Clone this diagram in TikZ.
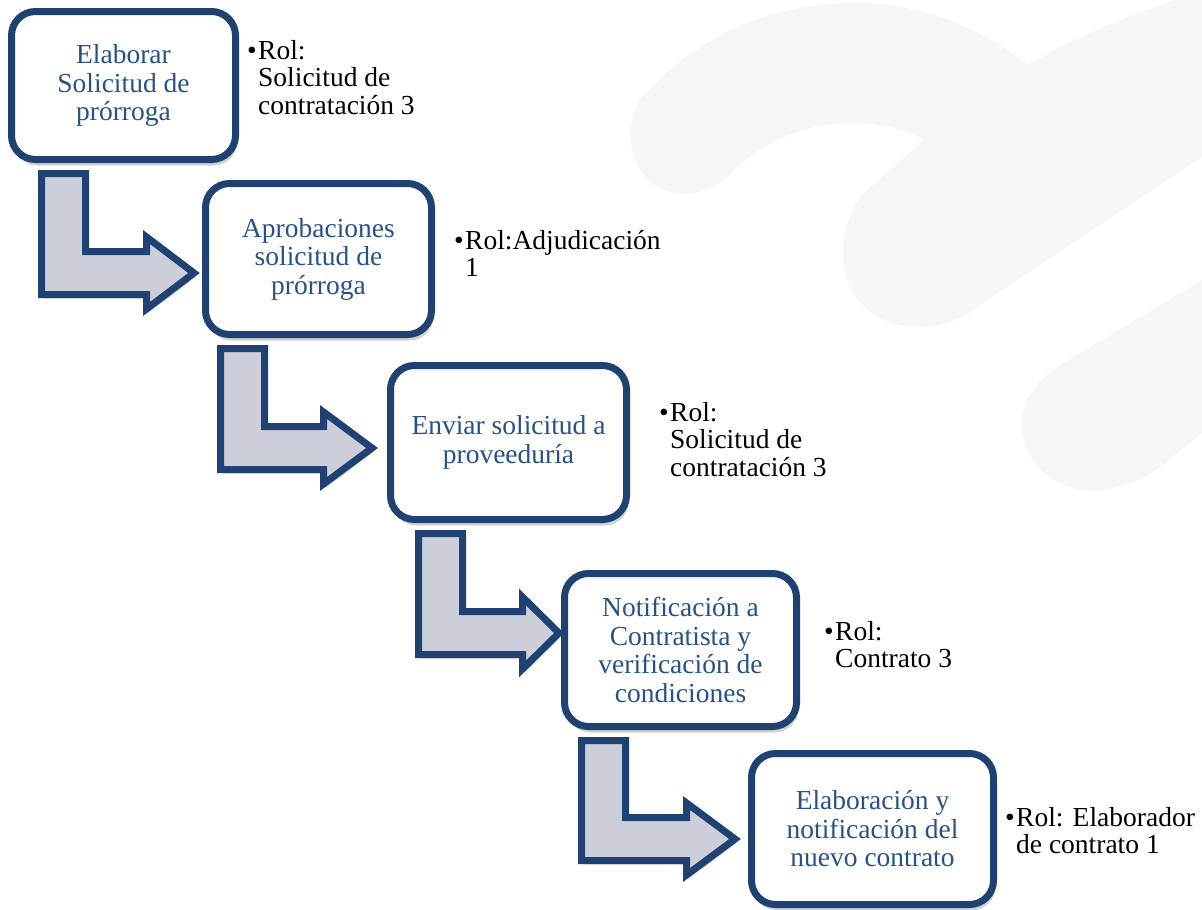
\documentclass[tikz,border=0pt]{standalone}
\usepackage{fontspec}
\setmainfont{Liberation Serif}
\usetikzlibrary{calc,shadows}
\definecolor{bdr}{RGB}{31,66,115}
\definecolor{btxt}{RGB}{40,82,135}
\definecolor{afill}{RGB}{204,207,217}
\definecolor{wm}{RGB}{246,246,247}
\newcommand{\bxfont}{\fontsize{27.5}{28.5}\selectfont}
\newcommand{\rlfont}{\fontsize{27.5}{27.5}\selectfont}
\newcommand{\bul}{\llap{\textbullet\hspace{1.5pt}}}
\pgfdeclarelayer{wmlayer}
\pgfdeclarelayer{bg}
\pgfsetlayers{wmlayer,bg,main}
\tikzset{
  stepbox/.style={draw=bdr, line width=7pt, fill=white, rounded corners=24pt,
    align=center, text=btxt, font=\bxfont, inner sep=0pt,
    drop shadow={shadow xshift=2pt, shadow yshift=-6pt, opacity=0.18, fill=black}},
  rolenote/.style={anchor=north west, align=left, inner sep=0pt, font=\rlfont, text=black},
  blk/.style={draw=bdr, line width=7pt, fill=afill, line join=miter,
    drop shadow={shadow xshift=2pt, shadow yshift=-4pt, opacity=0.15, fill=black}},
  wmark/.style={fill=wm, draw=none}
}
\newcommand{\blockarrow}[6]{%
  \coordinate (s) at ($(#1.south west)+(#3+3.5,10.5)$);
  \coordinate (t) at ($(#2.west)+(#4,#5)$);
  \coordinate (sr) at ($(s)+(44,0)$);
  \coordinate (bt) at ($(t)+(0,-21.5)$);
  \coordinate (bb) at ($(t)+(0,21.5)$);
  \coordinate (hb) at ($(t)+(-#6,0)$);
  \coordinate (ht) at ($(hb)+(0,-36)$);
  \coordinate (hd) at ($(hb)+(0,36)$);
  \draw[blk] (s) -- (sr) -- (sr |- bt) -- (hb |- bt) -- (ht) -- (t) -- (hd) -- (hb |- bb) -- (s |- bb) -- cycle;
}
\begin{document}
\begin{tikzpicture}[x=1pt,y=-1pt]
\useasboundingbox (0,0) rectangle (1202,910);
\begin{pgfonlayer}{wmlayer}
\fill[white] (0,0) rectangle (1202,910);
% watermark strokes
\fill[wmark] (640,100) .. controls (700,30) and (780,3) .. (854,3) .. controls (925,3) and (985,30) .. (1027,65) -- (1000,160) -- (924,140) .. controls (900,128) and (880,123) .. (853,123) .. controls (800,123) and (760,145) .. (731,173) .. controls (710,198) and (670,200) .. (648,180) .. controls (628,160) and (625,125) .. (640,100) -- cycle;
\fill[wmark] (864,193) -- (924,140) .. controls (960,112) and (1000,85) .. (1027,65) .. controls (1080,35) and (1130,15) .. (1176,0) -- (1202,0) -- (1202,157) -- (983,303) .. controls (955,330) and (890,340) .. (858,300) .. controls (835,270) and (840,220) .. (864,193) -- cycle;
\fill[wmark] (1202,280) -- (1060,365) .. controls (1030,385) and (1018,410) .. (1023,435) .. controls (1030,475) and (1070,495) .. (1103,490) .. controls (1130,486) and (1150,475) .. (1165,463) -- (1202,433) -- cycle;
\end{pgfonlayer}

\node[stepbox, minimum width=224pt, minimum height=148pt] (b1) at (123.5,85.5) {Elaborar\\Solicitud de\\prórroga};
\node[stepbox, minimum width=226pt, minimum height=151pt] (b2) at (318.5,259) {Aprobaciones\\solicitud de\\prórroga};
\node[stepbox, minimum width=236pt, minimum height=154pt] (b3) at (508.5,442.5) {Enviar solicitud a\\proveeduría};
\node[stepbox, minimum width=232pt, minimum height=153pt] (b4) at (680.5,650) {Notificación a\\Contratista y\\verificación de\\condiciones};
\node[stepbox, minimum width=242pt, minimum height=151pt] (b5) at (872.5,829) {Elaboración y\\notificación del\\nuevo contrato};

\node[rolenote] (r1) at (258,40) {\bul Rol:\\Solicitud de\\contratación 3};
\node[rolenote] (r2) at (465,230) {\bul Rol:Adjudicación\\1};
\node[rolenote] (r3) at (670,402) {\bul Rol:\\Solicitud de\\contratación 3};
\node[rolenote] (r4) at (835,621) {\bul Rol:\\Contrato 3};
\node[rolenote] (r5) at (1016,807) {\bul Rol: Elaborador\\de contrato 1};

\begin{pgfonlayer}{bg}
\blockarrow{b1}{b2}{30}{-8}{14}{47.5}
\blockarrow{b2}{b3}{15}{-15}{5.5}{48.5}
\blockarrow{b3}{b4}{28}{-2}{-17}{36.5}
\blockarrow{b4}{b5}{17}{-13}{10}{48.5}
\end{pgfonlayer}
\end{tikzpicture}
\end{document}
